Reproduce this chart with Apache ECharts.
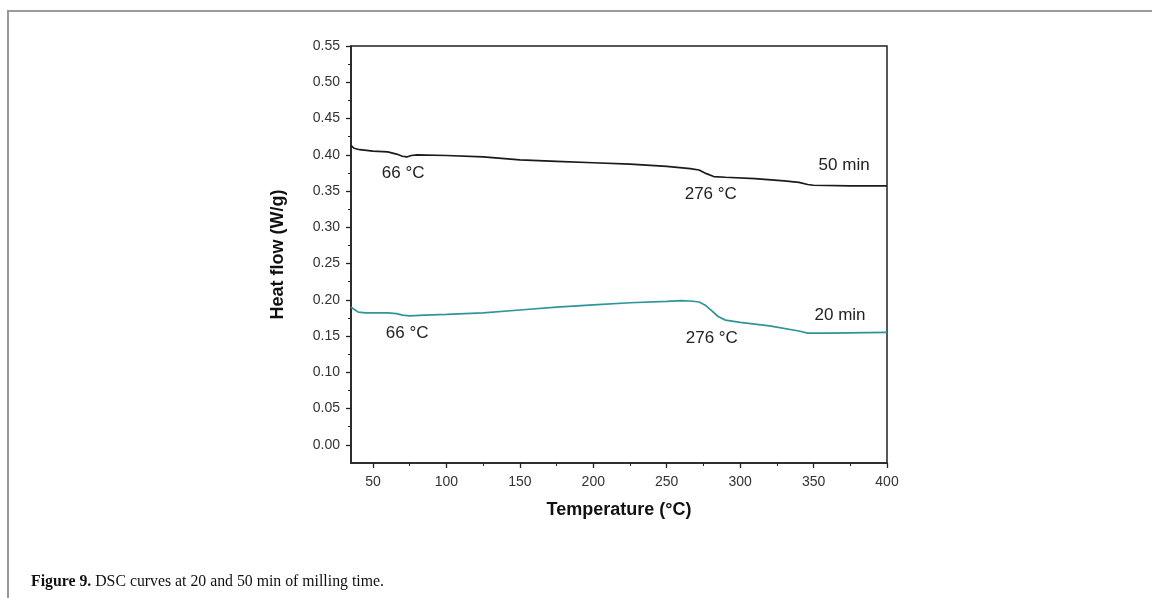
<!DOCTYPE html>
<html>
<head>
<meta charset="utf-8">
<script src="https://cdn.jsdelivr.net/npm/echarts@6/dist/echarts.min.js"></script>
<style>
  html, body { margin: 0; padding: 0; background: #fff; }
  #chart { position: absolute; left: 0; top: 0; width: 1152px; height: 598px; }
  #frame { position: absolute; left: 7px; top: 10px; right: 0; bottom: 0;
           border-left: 2px solid #9a9a9a; border-top: 2px solid #9a9a9a; pointer-events: none; }
  #caption { position: absolute; left: 31px; top: 572px; font-family: "Liberation Serif", serif;
             font-size: 15.8px; line-height: 18px; color: #111; white-space: nowrap; }
</style>
</head>
<body>
<div id="chart"></div>
<div id="frame"></div>
<div id="caption"><b>Figure 9.</b> DSC curves at 20 and 50 min of milling time.</div>
<script>
// ---- data ----
const temps50 = [35, 37, 41, 50, 60, 66, 70, 73, 76, 80, 100, 125, 150, 175, 200, 225, 250, 266, 272, 277, 282, 290, 310, 330, 340, 346, 350, 375, 400];
const heat50  = [0.413, 0.409, 0.407, 0.405, 0.404, 0.401, 0.398, 0.397, 0.399, 0.400, 0.399, 0.397, 0.393, 0.391, 0.389, 0.387, 0.384, 0.381, 0.379, 0.374, 0.370, 0.369, 0.367, 0.364, 0.362, 0.359, 0.358, 0.357, 0.357];
const temps20 = [35, 37, 40, 45, 60, 66, 70, 75, 85, 100, 125, 150, 175, 200, 225, 250, 260, 268, 272, 276, 280, 285, 290, 300, 320, 340, 346, 360, 400];
const heat20  = [0.190, 0.187, 0.183, 0.182, 0.182, 0.181, 0.179, 0.178, 0.179, 0.180, 0.182, 0.186, 0.190, 0.193, 0.196, 0.198, 0.199, 0.198, 0.197, 0.193, 0.186, 0.177, 0.172, 0.169, 0.164, 0.157, 0.154, 0.154, 0.155];
const xTicks = [50, 100, 150, 200, 250, 300, 350, 400];
const xMinorTicks = [75, 125, 175, 225, 275, 325, 375];
const yTicks = [0.00, 0.05, 0.10, 0.15, 0.20, 0.25, 0.30, 0.35, 0.40, 0.45, 0.50, 0.55];
const yMinorTicks = [0.025, 0.075, 0.125, 0.175, 0.225, 0.275, 0.325, 0.375, 0.425, 0.475, 0.525];
const seriesNames = ['50 min', '20 min'];
const annotations = [
  { text: '66 °C', x: 70.5, y: 0.375 },
  { text: '66 °C', x: 73.2, y: 0.154 },
  { text: '276 °C', x: 280, y: 0.346 },
  { text: '276 °C', x: 280.7, y: 0.147 },
  { text: '50 min', x: 370.8, y: 0.386 },
  { text: '20 min', x: 368, y: 0.179 }
];

const pair = (xs, ys) => xs.map((x, i) => [x, ys[i]]);
const axisColor = '#222';
const labelFont = 'Liberation Sans';

const chart = echarts.init(document.getElementById('chart'));
chart.setOption({
  animation: false,
  grid: { left: 351, right: 265, top: 46, bottom: 135, show: true, borderColor: axisColor, borderWidth: 1.5, backgroundColor: 'transparent' },
  xAxis: [{
    type: 'value', min: 35, max: 400, position: 'bottom',
    name: 'Temperature (°C)', nameLocation: 'middle', nameGap: 38,
    nameTextStyle: { fontFamily: labelFont, fontWeight: 'bold', fontSize: 18, color: '#111' },
    axisLine: { show: true, onZero: false, lineStyle: { color: axisColor, width: 1.6 } },
    axisTick: { show: true, length: 5, customValues: xTicks, lineStyle: { color: axisColor, width: 1.3 } },
    axisLabel: { customValues: xTicks, margin: 12, fontFamily: labelFont, fontSize: 14, color: '#333' },
    splitLine: { show: false }
  }, {
    type: 'value', min: 35, max: 400, position: 'bottom',
    axisLine: { show: false, onZero: false },
    axisTick: { show: true, length: 3, customValues: xMinorTicks, lineStyle: { color: axisColor, width: 1 } },
    axisLabel: { show: false },
    splitLine: { show: false }
  }],
  yAxis: [{
    type: 'value', min: -0.025, max: 0.55, position: 'left',
    name: 'Heat flow (W/g)', nameLocation: 'middle', nameGap: 64,
    nameTextStyle: { fontFamily: labelFont, fontWeight: 'bold', fontSize: 18, color: '#111' },
    axisLine: { show: true, onZero: false, lineStyle: { color: axisColor, width: 1.6 } },
    axisTick: { show: true, length: 5, customValues: yTicks, lineStyle: { color: axisColor, width: 1.3 } },
    axisLabel: { customValues: yTicks, margin: 11, fontFamily: labelFont, fontSize: 14, color: '#333', formatter: v => v.toFixed(2) },
    splitLine: { show: false }
  }, {
    type: 'value', min: -0.025, max: 0.55, position: 'left',
    axisLine: { show: false, onZero: false },
    axisTick: { show: true, length: 3, customValues: yMinorTicks, lineStyle: { color: axisColor, width: 1 } },
    axisLabel: { show: false },
    splitLine: { show: false }
  }],
  series: [{
    name: seriesNames[0], type: 'line', xAxisIndex: 0, yAxisIndex: 0,
    data: pair(temps50, heat50), showSymbol: false, symbol: 'none',
    lineStyle: { color: '#1a1a1a', width: 1.7 }
  }, {
    name: seriesNames[1], type: 'line', xAxisIndex: 0, yAxisIndex: 0,
    data: pair(temps20, heat20), showSymbol: false, symbol: 'none',
    lineStyle: { color: '#2f9598', width: 1.7 }
  }]
});

const g = annotations.map(a => {
  const p = chart.convertToPixel({ xAxisIndex: 0, yAxisIndex: 0 }, [a.x, a.y]);
  return {
    type: 'text', x: p[0], y: p[1], z: 10,
    style: { text: a.text, fontFamily: labelFont, fontSize: 17, fill: '#222', align: 'center', verticalAlign: 'middle' }
  };
});
chart.setOption({ graphic: g });
</script>
</body>
</html>
